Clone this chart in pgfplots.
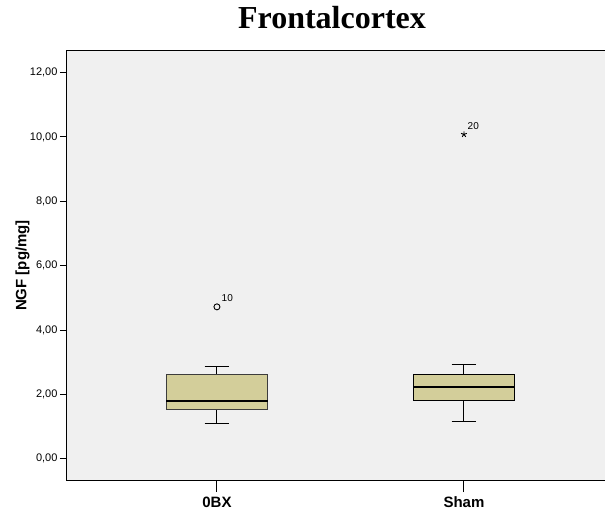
\documentclass[border=0pt]{standalone}
\usepackage{fontspec}
\setmainfont{Liberation Sans}
\newfontfamily\titlefont{Liberation Serif}
\usepackage{pgfplots}
\pgfplotsset{compat=1.18}
\usepgfplotslibrary{statistics}
\definecolor{panel}{RGB}{240,240,240}
\definecolor{boxfill}{RGB}{211,206,154}
\definecolor{boxline}{RGB}{60,60,60}

\begin{document}
\begin{tikzpicture}
\useasboundingbox (0pt,0pt) rectangle (605pt,512pt);
\begin{axis}[
  at={(66pt,32pt)}, anchor=south west,
  scale only axis, width=539pt, height=429pt,
  xmin=0.389, xmax=2.571, ymin=-0.66, ymax=12.67,
  axis background/.style={fill=panel},
  axis line style={black, line width=1pt},
  xtick={1,2}, xticklabels={\textbf{0BX},\textbf{Sham}},
  ytick={0,2,...,12},
  xtick pos=lower, ytick pos=left,
  tick align=outside, major tick length=6pt,
  tick style={black, line width=1pt},
  xtick style={/pgfplots/major tick length=12pt},
  xticklabel style={font=\fontsize{15}{17}\selectfont, yshift=-7pt},
  yticklabel style={font=\fontsize{11}{13}\selectfont, xshift=1pt},
  /pgf/number format/.cd, fixed, fixed zerofill, precision=2, use comma, assume math mode=true,
  /pgfplots/.cd,
  ylabel={\textbf{NGF [pg/mg]}},
  every axis y label/.style={at={(ticklabel cs:0.5)}, rotate=90, anchor=center,
    yshift=4pt, font=\fontsize{15}{17}\selectfont},
  boxplot/draw direction=y,
  boxplot/box extend=0.41,
  boxplot/whisker extend=0.1,
]
% 0BX group
\addplot+[
  boxplot prepared={draw position=1, lower whisker=1.10, lower quartile=1.53,
    median=1.79, upper quartile=2.63, upper whisker=2.86},
  draw=boxline, line width=1pt, fill=boxfill, solid, mark=none,
  boxplot/every whisker/.style={draw=black, line width=1pt},
  boxplot/every median/.style={draw=black, line width=2pt},
] coordinates {};
% Sham group
\addplot+[
  boxplot prepared={draw position=2, lower whisker=1.15, lower quartile=1.80,
    median=2.24, upper quartile=2.62, upper whisker=2.94},
  draw=black, line width=1pt, fill=boxfill, solid, mark=none,
  boxplot/every whisker/.style={draw=black, line width=1pt},
  boxplot/every median/.style={draw=black, line width=2pt},
] coordinates {};
% outliers with case numbers
\addplot[only marks, mark=o, mark size=3pt, black, line width=0.9pt,
  nodes near coords={10}, every node near coord/.style={font=\fontsize{10}{12}\selectfont, anchor=south west, xshift=1pt, yshift=1pt}]
  coordinates {(1,4.72)};
\addplot[only marks, mark=star, mark size=3pt, black, line width=0.9pt,
  nodes near coords={20}, every node near coord/.style={font=\fontsize{10}{12}\selectfont, anchor=south west, xshift=0pt, yshift=1pt}]
  coordinates {(2,10.08)};
\end{axis}
\node[font=\titlefont\bfseries\fontsize{32}{36}\selectfont, anchor=base] at (332pt,483pt) {Frontalcortex};
\end{tikzpicture}
\end{document}
